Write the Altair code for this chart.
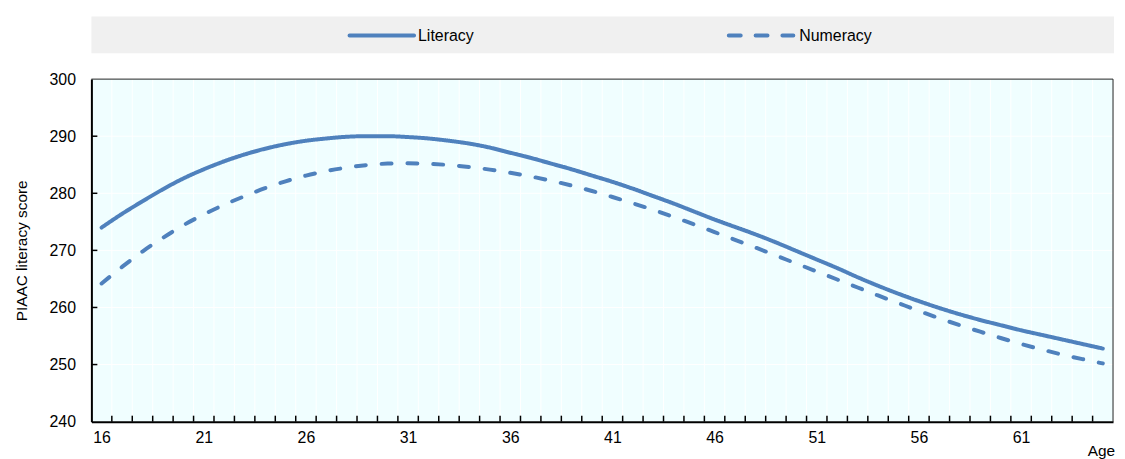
import altair as alt
import pandas as pd

# ---------------- data ----------------
ages = list(range(16, 66))
literacy = [274.0, 276.4, 278.6, 280.7, 282.6, 284.2, 285.6, 286.8, 287.8, 288.6,
            289.2, 289.6, 289.9, 290.0, 290.0, 289.85, 289.6, 289.2, 288.7, 288.0,
            287.1, 286.2, 285.2, 284.2, 283.1, 282.0, 280.8, 279.5, 278.2, 276.8,
            275.4, 274.1, 272.8, 271.4, 269.9, 268.4, 266.9, 265.3, 263.8, 262.4,
            261.1, 259.9, 258.8, 257.8, 256.9, 256.0, 255.2, 254.4, 253.6, 252.8]
numeracy = [264.2, 267.1, 269.8, 272.2, 274.4, 276.3, 278.0, 279.5, 280.9, 282.1,
            283.1, 283.9, 284.5, 284.95, 285.2, 285.25, 285.15, 284.95, 284.6, 284.15,
            283.6, 282.95, 282.2, 281.35, 280.4, 279.35, 278.25, 277.1, 275.85, 274.55,
            273.2, 271.85, 270.5, 269.1, 267.7, 266.3, 264.9, 263.5, 262.1, 260.75,
            259.4, 258.1, 256.9, 255.75, 254.65, 253.6, 252.65, 251.75, 250.95, 250.2]
series_names = ["Literacy", "Numeracy"]
x_label_ages = [16, 21, 26, 31, 36, 41, 46, 51, 56, 61]
y_ticks = [240, 250, 260, 270, 280, 290, 300]
y_title = "PIAAC literacy score"
x_title = "Age"

# ---------------- styling ----------------
W, H = 1029, 345
BLUE = "#4f81bd"
FONT = "Liberation Sans, Arial, sans-serif"
FS = 15.5
LFS = 16

df = pd.DataFrame({
    "age": ages * 2,
    "score": literacy + numeracy,
    "series": [series_names[0]] * len(ages) + [series_names[1]] * len(ages),
})
inner_bounds = pd.DataFrame({"age": [a + 0.5 for a in ages[:-1]]})
inner_y = pd.DataFrame({"score": y_ticks[1:-1]})

xscale = alt.Scale(domain=[ages[0] - 0.5, ages[-1] + 0.5], nice=False, zero=False)
yscale = alt.Scale(domain=[y_ticks[0], y_ticks[-1]], nice=False, zero=False)

xaxis = alt.Axis(values=x_label_ages, title=x_title, ticks=False, tickSize=0, grid=False,
                 labelPadding=8, labelFont=FONT, labelFontSize=LFS, labelColor="black",
                 domainColor="black", domainWidth=2, orient="bottom", zindex=1,
                 titleFont=FONT, titleFontSize=FS, titleFontWeight="normal", titleColor="black",
                 titleX=1003, titleY=29, titleAlign="left", titleBaseline="middle", titleAngle=0)
yaxis = alt.Axis(values=y_ticks, title=y_title, ticks=False, tickSize=0, grid=False,
                 labelPadding=16, labelFont=FONT, labelFontSize=LFS, labelColor="black",
                 labelBaseline="middle", orient="left", zindex=1,
                 domainColor="black", domainWidth=2,
                 titleFont=FONT, titleFontSize=FS, titleFontWeight="normal", titleColor="black",
                 titleX=-70, titleY=H / 2, titleAngle=270, titleAlign="center",
                 titleBaseline="middle")

X = alt.X("age:Q", scale=xscale, axis=xaxis)
Y = alt.Y("score:Q", scale=yscale, axis=yaxis)

vgrid = alt.Chart(inner_bounds).mark_rule(color="white", strokeWidth=1).encode(x=X)
hgrid = alt.Chart(inner_y).mark_rule(color="white", strokeWidth=1).encode(y=Y)

one = alt.Data(values=[{}])
top_border = alt.Chart(one).mark_rule(color="#222222", strokeWidth=1).encode(
    x=alt.value(0), x2=alt.value(W), y=alt.value(0))
right_border = alt.Chart(one).mark_rule(color="#222222", strokeWidth=1).encode(
    x=alt.value(W), y=alt.value(0), y2=alt.value(H))

lines = alt.Chart(df).mark_line(strokeWidth=4, strokeCap="round", interpolate="monotone").encode(
    x=X,
    y=Y,
    detail="series:N",
    color=alt.value(BLUE),
    strokeDash=alt.StrokeDash("series:N",
                              scale=alt.Scale(domain=series_names, range=[[1, 0], [10, 16]]),
                              legend=None),
)

xticks = alt.Chart(inner_bounds).mark_rule(color="black", strokeWidth=1.5).encode(
    x=X, y=alt.value(H), y2=alt.value(H - 6))
yticks = alt.Chart(inner_y).mark_rule(color="black", strokeWidth=1.5).encode(
    y=Y, x=alt.value(0), x2=alt.value(6))

band = alt.Chart(one).mark_rect(color="#f0f0f0").encode(
    x=alt.value(0), x2=alt.value(W + 1), y=alt.value(-63), y2=alt.value(-26))

legend_layers = []
leg_pos = [(260, 325, 329, [1, 0]), (642, 707, 713, [12, 15])]
for name, (x0, x1, tx, dash) in zip(series_names, leg_pos):
    d = pd.DataFrame({"series": [name]})
    legend_layers.append(
        alt.Chart(d).mark_rule(color=BLUE, strokeWidth=4, strokeCap="round", strokeDash=dash).encode(
            x=alt.value(x0), x2=alt.value(x1), y=alt.value(-44)))
    legend_layers.append(
        alt.Chart(d).mark_text(align="left", baseline="middle", font=FONT, fontSize=LFS,
                               color="black").encode(
            x=alt.value(tx), y=alt.value(-43), text="series:N"))

chart = alt.layer(vgrid, hgrid, top_border, right_border, lines, xticks, yticks, band,
                  *legend_layers).properties(
    width=W, height=H,
    autosize=alt.AutoSizeParams(type="none"),
    padding={"left": 84, "top": 70, "right": 4, "bottom": 36},
).configure_view(fill="#f0feff", stroke=None)

chart.save("out.html", embed_options={"renderer": "svg", "actions": False})
